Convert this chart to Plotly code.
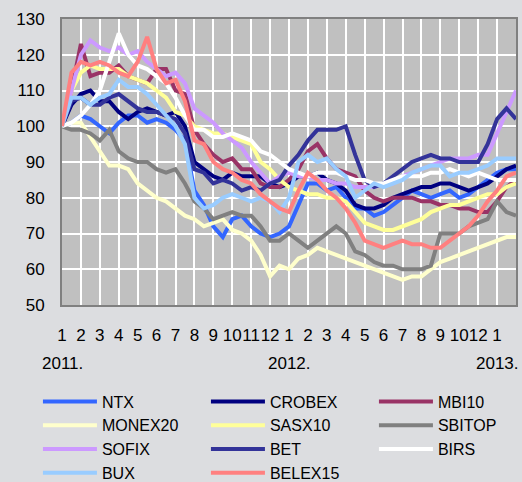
import plotly.graph_objects as go

# sample positions, in month-gridline units (0 = start of Jan 2011, 24 = right edge)
t = [i * 0.5 for i in range(49)]

month_labels = ["1", "2", "3", "4", "5", "6", "7", "8", "9", "10", "11", "12",
                "1", "2", "3", "4", "5", "6", "7", "8", "9", "10", "12", "1"]
year_labels = ["2011.", "2012.", "2013."]
year_pos = [0, 12, 23]

NTX = [100, 101, 103, 102, 100, 98, 101, 103, 103, 101, 102, 101, 99, 96, 82, 78, 72, 69, 74, 75,
       72, 70, 69, 70, 72, 78, 84, 84, 82, 83, 80, 77, 77, 75, 76, 78, 80, 82, 81, 80,
       81, 82, 80, 81, 83, 85, 87, 88, 88]
CROBEX = [100, 106, 109, 110, 107, 107, 104, 102, 104, 105, 104, 103, 104, 100, 90, 88, 86, 85, 87, 86,
          86, 86, 84, 83, 84, 86, 86, 87, 85, 84, 82, 78, 77, 77, 78, 80, 81, 82, 83, 83,
          84, 84, 83, 82, 83, 84, 86, 88, 89]
MBI10 = [100, 110, 123, 114, 115, 115, 117, 114, 113, 112, 116, 116, 110, 109, 99, 95, 92, 90, 91, 88,
         88, 84, 83, 83, 85, 88, 93, 95, 91, 88, 87, 86, 82, 80, 79, 80, 80, 80, 79, 79,
         78, 78, 77, 77, 76, 76, 79, 83, 85]
MONEX20 = [100, 101, 101, 97, 93, 89, 89, 88, 84, 82, 80, 79, 77, 75, 74, 72, 73, 74, 71, 70,
           68, 64, 58, 61, 60, 63, 64, 66, 65, 64, 63, 62, 61, 60, 59, 58, 57, 58, 58, 60,
           62, 63, 64, 65, 66, 67, 68, 69, 69]
SASX10 = [100, 110, 115, 117, 116, 116, 116, 114, 113, 112, 110, 108, 104, 103, 100, 99, 98, 98, 97, 96,
          95, 90, 88, 85, 83, 82, 81, 81, 80, 80, 79, 76, 73, 72, 71, 71, 72, 73, 74, 76,
          77, 78, 78, 79, 80, 81, 81, 83, 84]
SBITOP = [100, 99, 99, 98, 96, 99, 93, 91, 90, 90, 88, 87, 88, 84, 79, 77, 74, 75, 76, 75,
          75, 72, 68, 68, 70, 68, 66, 68, 70, 72, 70, 65, 64, 62, 61, 61, 60, 60, 60, 61,
          70, 70, 70, 72, 73, 74, 79, 76, 75]
SOFIX = [100, 110, 120, 124, 122, 121, 122, 120, 121, 118, 116, 114, 115, 112, 105, 103, 101, 98, 96, 94,
         90, 87, 84, 86, 87, 86, 86, 85, 85, 84, 84, 83, 83, 83, 84, 84, 86, 87, 88, 89,
         90, 91, 91, 91, 92, 92, 98, 104, 110]
BET = [100, 107, 108, 106, 106, 108, 109, 107, 105, 104, 104, 103, 102, 98, 88, 87, 84, 85, 84, 82,
       83, 82, 84, 85, 89, 92, 96, 99, 99, 99, 100, 92, 85, 83, 84, 86, 88, 90, 91, 92,
       91, 91, 90, 90, 90, 95, 102, 105, 102]
BIRS = [100, 101, 103, 106, 110, 118, 126, 120, 117, 116, 114, 112, 108, 103, 99, 99, 97, 97, 98, 97,
        96, 93, 92, 90, 88, 87, 86, 87, 87, 87, 86, 85, 85, 84, 84, 85, 86, 86, 86, 87,
        87, 88, 87, 86, 87, 86, 85, 85, 85]
BUX = [100, 108, 108, 106, 108, 109, 113, 111, 111, 109, 106, 103, 100, 95, 80, 77, 78, 80, 81, 80,
       79, 80, 79, 76, 80, 90, 92, 90, 91, 88, 86, 80, 82, 84, 83, 84, 85, 87, 88, 89,
       89, 86, 87, 87, 88, 89, 91, 91, 91]
BELEX15 = [100, 115, 118, 117, 118, 117, 115, 114, 118, 125, 116, 112, 113, 107, 96, 95, 90, 88, 87, 85,
           84, 81, 79, 77, 76, 82, 87, 85, 82, 80, 77, 73, 68, 67, 66, 67, 68, 67, 67, 66,
           66, 68, 70, 72, 75, 79, 82, 86, 87]

series = [
    ("NTX", NTX, "#3366ff"),
    ("CROBEX", CROBEX, "#000080"),
    ("MBI10", MBI10, "#993366"),
    ("MONEX20", MONEX20, "#ffffcc"),
    ("SASX10", SASX10, "#ffff99"),
    ("SBITOP", SBITOP, "#808080"),
    ("SOFIX", SOFIX, "#cc99ff"),
    ("BET", BET, "#333399"),
    ("BIRS", BIRS, "#ffffff"),
    ("BUX", BUX, "#99ccff"),
    ("BELEX15", BELEX15, "#ff8080"),
]

FONT = "Liberation Sans, Arial, sans-serif"

fig = go.Figure()
for name, vals, col in series:
    fig.add_trace(go.Scatter(x=t, y=vals, mode="lines", name=name,
                             line=dict(color=col, width=4)))

fig.add_hline(y=100, line=dict(color="#808080", width=2), layer="below")

for lab, pos in zip(year_labels, year_pos):
    fig.add_annotation(text=lab, x=pos, xref="x", y=-0.203, yref="paper",
                       showarrow=False, xanchor="center", yanchor="middle",
                       font=dict(family=FONT, size=17, color="#000000"))

fig.update_layout(
    width=522, height=482,
    margin=dict(l=62, r=6, t=19, b=177, autoexpand=False),
    paper_bgcolor="#dcdde0",
    plot_bgcolor="#c0c0c0",
    font=dict(family=FONT, size=17, color="#000000"),
    showlegend=True,
    legend=dict(orientation="h", xref="paper", yref="paper",
                x=-0.053, xanchor="left", y=-0.278, yanchor="top",
                itemwidth=54, entrywidth=99, entrywidthmode="pixels",
                font=dict(family=FONT, size=16, color="#000000"),
                bgcolor="rgba(0,0,0,0)", traceorder="normal"),
)
fig.update_xaxes(range=[0, 24], tickmode="array",
                 tickvals=list(range(24)), ticktext=month_labels,
                 tickangle=0, showgrid=True, gridcolor="#ffffff", gridwidth=2,
                 showline=True, linecolor="#808080", linewidth=2, mirror=True,
                 zeroline=False, ticks="", ticklabelstandoff=14)
fig.update_yaxes(range=[50, 130], dtick=10, tick0=50,
                 showgrid=True, gridcolor="#ffffff", gridwidth=2,
                 showline=True, linecolor="#808080", linewidth=2, mirror=True,
                 zeroline=False, ticks="", ticklabelstandoff=12)

fig.write_html("out.html", config={"displayModeBar": False},
               post_script="document.body.style.margin='0px';")
